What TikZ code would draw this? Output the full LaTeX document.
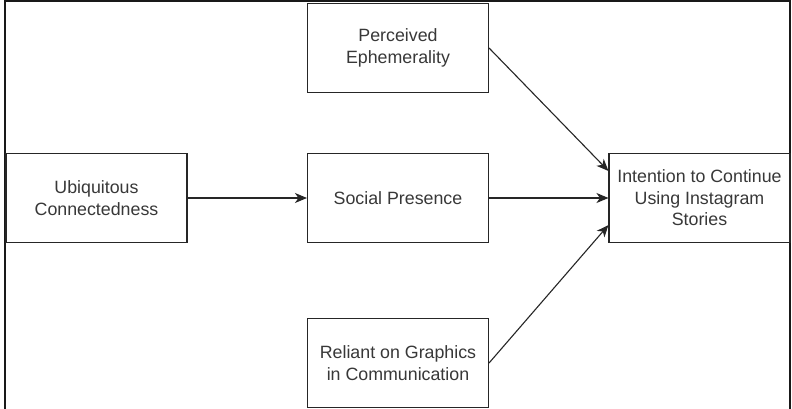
\documentclass[tikz,border=0pt]{standalone}
\usepackage{fontspec}
\setmainfont{Liberation Sans}
\usetikzlibrary{arrows.meta}
\begin{document}
\begin{tikzpicture}[x=1pt,y=-1pt,
  box/.style={draw=black!85, line width=1.1pt, fill=white, minimum width=181pt, minimum height=89pt,
    inner sep=0pt, align=center, text=black!78,
    font=\fontsize{17.8}{21.5}\selectfont},
  conn/.style={draw=black!85, line width=1.1pt, -{Stealth[length=12pt,width=10pt,inset=3.5pt]}}]
\useasboundingbox (0,0) rectangle (792,409);
\fill[white] (0,0) rectangle (792,409);
% outer frame
\draw[line width=2pt, black!90] (5,409) -- (5,1) -- (790,1) -- (790,409);
\node[box] (per) at (398,48) {Perceived\\Ephemerality};
\node[box] (ubi) at (96.5,198) {Ubiquitous\\Connectedness};
\node[box] (soc) at (398,198) {Social Presence};
\node[box] (int) at (699.5,198) {Intention to Continue\\Using Instagram\\Stories};
\node[box] (rel) at (398,363) {Reliant on Graphics\\in Communication};
\draw[conn] (ubi.east) -- (soc.west);
\draw[conn] (soc.east) -- (int.west);
\draw[conn] (per.east) -- ([yshift=-18pt]int.north west);
\draw[conn] (rel.east) -- ([yshift=18pt]int.south west);
\end{tikzpicture}
\end{document}
